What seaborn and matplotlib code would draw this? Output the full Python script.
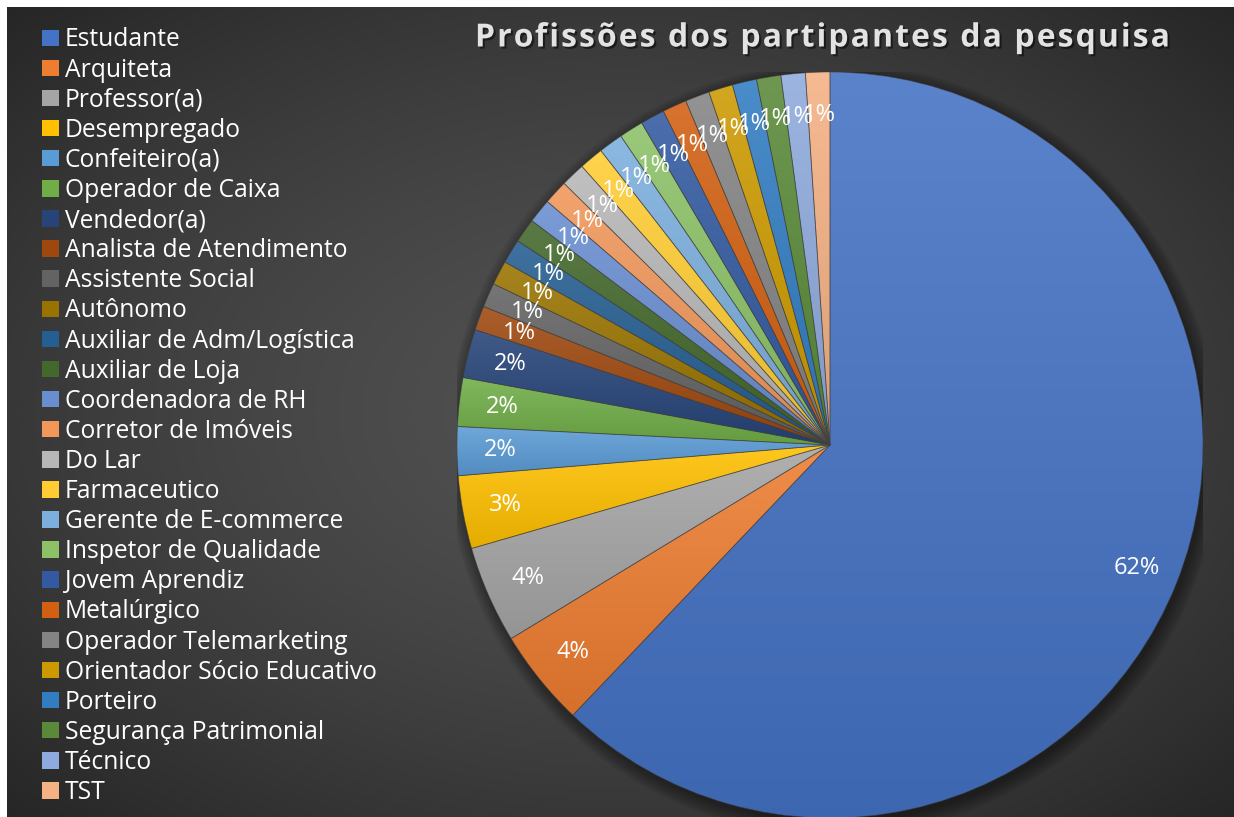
import numpy as np
import matplotlib
matplotlib.use("Agg")
import matplotlib.pyplot as plt
import matplotlib.patheffects as pe
from matplotlib.patches import Circle, Rectangle
from matplotlib.colors import to_rgb
import seaborn as sns

# dados (95 participantes)
profissoes = ["Estudante", "Arquiteta", "Professor(a)", "Desempregado", "Confeiteiro(a)",
              "Operador de Caixa", "Vendedor(a)", "Analista de Atendimento", "Assistente Social",
              "Autônomo", "Auxiliar de Adm/Logística", "Auxiliar de Loja", "Coordenadora de RH",
              "Corretor de Imóveis", "Do Lar", "Farmaceutico", "Gerente de E-commerce",
              "Inspetor de Qualidade", "Jovem Aprendiz", "Metalúrgico", "Operador Telemarketing",
              "Orientador Sócio Educativo", "Porteiro", "Segurança Patrimonial", "Técnico", "TST"]
contagem = [59, 4, 4, 3, 2, 2, 2, 1, 1, 1, 1, 1, 1, 1, 1, 1, 1, 1, 1, 1, 1, 1, 1, 1, 1, 1]
cores = ["#4472C4", "#ED7D31", "#A5A5A5", "#FFC000", "#5B9BD5", "#70AD47",
         "#264478", "#9E480E", "#636363", "#997300", "#255E91", "#43682B",
         "#698ED0", "#F1975A", "#B7B7B7", "#FFCD33", "#7CAFDD", "#8CC168",
         "#335AA1", "#D26012", "#848484", "#CC9A00", "#327DC2", "#5A8A39",
         "#8FAADC", "#F4B183"]
titulo = "Profissões dos partipantes da pesquisa"

sns.set_theme(style="white")
plt.rcParams['font.family'] = ['Open Sans', 'DejaVu Sans']

W, H = 1234, 817
fig = plt.figure(figsize=(W / 100, H / 100), dpi=100, facecolor="white")

# fundo com gradiente radial
bg = fig.add_axes([7 / W, 0, 1 - 7 / W, 1 - 7 / H])
yy, xx = np.mgrid[0:1:300j, 0:1:450j]
d = np.sqrt(((xx - 0.5) / 0.5) ** 2 + ((yy - 0.5) / 0.5) ** 2) / np.sqrt(2)
d = np.clip(d, 0, 1) ** 1.5
c0, c1 = 0x51 / 255, 0x26 / 255
g = c0 + (c1 - c0) * d
bg.imshow(np.dstack([g, g, g]), extent=(0, 1, 0, 1), aspect="auto", interpolation="bilinear")
bg.set_axis_off()

# pizza
cx, cy, r = 830, 445, 373
ax = fig.add_axes([(cx - r) / W, 1 - (cy + r) / H, 2 * r / W, 2 * r / H])
ax.patch.set_alpha(0)
wedges, texts, autotexts = ax.pie(
    contagem, colors=cores, startangle=90, counterclock=False,
    autopct="%1.0f%%", pctdistance=0.885,
    wedgeprops=dict(edgecolor=(0.25, 0.25, 0.25, 0.55), linewidth=0.6),
    textprops=dict(color="white", fontsize=17))

# sombra
for k in range(10):
    ax.add_patch(Circle((0.008, -0.012), 1 + 0.004 * k, color="black", alpha=0.045, zorder=0, lw=0))

# gradiente vertical em cada fatia
for w, c in zip(wedges, cores):
    verts = w.get_patch_transform().transform(w.get_path().vertices)
    x0, y0 = verts.min(axis=0)
    x1, y1 = verts.max(axis=0)
    rgb = np.array(to_rgb(c))
    top = rgb + (1 - rgb) * 0.12
    bot = rgb * 0.9
    t = np.linspace(0, 1, 64)[:, None]
    grad = top * (1 - t) + bot * t
    im = ax.imshow(grad[:, None, :], extent=(x0, x1, y0, y1), origin="upper",
                   aspect="auto", zorder=1, interpolation="bilinear")
    im.set_clip_path(w)
    w.set_facecolor("none")
    w.set_zorder(2)

for t_ in autotexts:
    t_.set_zorder(5)

ax.set_xlim(-1, 1)
ax.set_ylim(-1, 1)
ax.set_aspect("equal")
ax.set_axis_off()

# legenda
handles = [Rectangle((0, 0), 1, 1, facecolor=c, edgecolor="none") for c in cores]
fig.legend(handles, profissoes, loc="upper left", bbox_to_anchor=(42 / W, 1 - 27.5 / H),
           frameon=False, fontsize=17.75, labelcolor="white",
           handlelength=0.69, handleheight=0.65, handletextpad=0.24,
           labelspacing=0.207, borderpad=0, borderaxespad=0)

# titulo com espacamento entre letras
renderer = fig.canvas.get_renderer()
tprops = dict(fontsize=23, fontweight="bold", color="#E3E3E3", va="center", ha="left",
              path_effects=[pe.withSimplePatchShadow(offset=(1.5, -1.5), shadow_rgbFace="black", alpha=0.5)])


def largura(s):
    tt = fig.text(0, 0, s + "|", **tprops)
    tb = fig.text(0, 0, "|", **tprops)
    wpx = tt.get_window_extent(renderer).width - tb.get_window_extent(renderer).width
    tt.remove()
    tb.remove()
    return wpx


x_ini, x_fim = 475, 1170
natural = largura(titulo)
extra = (x_fim - x_ini - natural) / (len(titulo) - 1)
for i, ch in enumerate(titulo):
    if ch == " ":
        continue
    xp = x_ini + largura(titulo[:i]) + i * extra
    fig.text(xp / W, 1 - 38 / H, ch, **tprops)

fig.savefig("out.png", dpi=100)
